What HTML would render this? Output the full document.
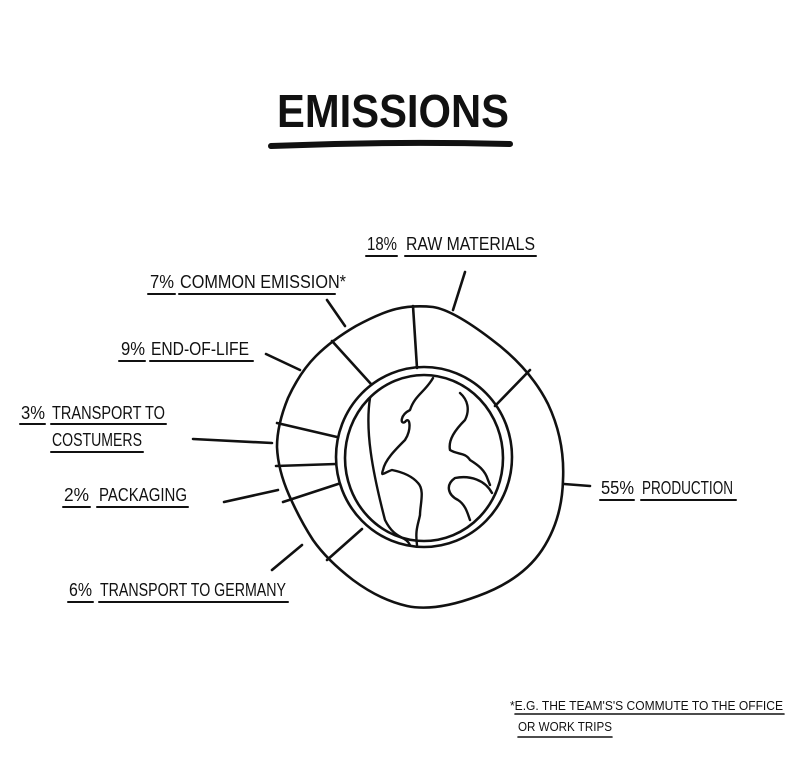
<!DOCTYPE html>
<html><head><meta charset="utf-8"><style>
html,body{margin:0;padding:0;background:#fff;width:800px;height:780px;overflow:hidden}
svg{display:block}
text{font-family:"Liberation Sans Narrow","Liberation Sans",sans-serif;fill:#111}
</style></head><body>
<svg width="800" height="780" viewBox="0 0 800 780" fill="none" stroke="#111" stroke-width="2.6" stroke-linecap="round" stroke-linejoin="round">
<text x="277" y="127" font-size="46" font-weight="bold" textLength="232" lengthAdjust="spacingAndGlyphs" stroke="none">EMISSIONS</text>
<path d="M271 146 Q390 141 510 144" stroke-width="6"/>

<!-- outer shape (smoothed) -->
<path d="M433 307 Q453 310 491 339 Q530 368 548 404 Q565 440 563 480 Q562 520 542 550 Q522 580 478 596 Q435 612 407 606 Q380 600 353 580 Q327 560 313 540 Q300 520 289 495 Q278 470 277 447 Q277 425 288 398 Q300 372 316 356 Q332 340 356 326 Q380 313 396 309 Q413 305 433 307 Z"/>
<!-- inner ring -->
<ellipse cx="424" cy="457" rx="88" ry="90"/>
<ellipse cx="424" cy="458" rx="79" ry="83"/>
<!-- dividers -->
<path d="M413 306 L417 368"/>
<path d="M530 370 L495 406"/>
<path d="M332 341 L371 384"/>
<path d="M277 423 L337 437"/>
<path d="M276 466 L336 464"/>
<path d="M283 502 L338 484"/>
<path d="M327 560 L362 529"/>
<!-- leaders -->
<path d="M453 310 L465 272"/>
<path d="M345 326 L327 300"/>
<path d="M300 370 L266 354"/>
<path d="M272 443 L193 439"/>
<path d="M278 490 L224 502"/>
<path d="M302 545 L272 570"/>
<path d="M564 484 L590 486"/>
<!-- continents -->
<path d="M370 398 C365 430 372 470 385 520 C395 540 405 535 410 545" stroke-width="2.4"/>
<path d="M433 378 C425 392 415 395 410 410 C400 415 400 425 405 422 C410 415 412 430 405 440 C395 450 385 460 383 470 C380 478 385 472 392 470 C402 472 412 476 418 483 C425 490 420 505 420 515 C418 525 415 530 417 545" stroke-width="2.4"/>
<path d="M460 393 C468 400 470 410 465 420 C455 430 448 440 450 450 C458 455 465 452 470 460 C478 465 485 470 488 480 L490 485 M492 493 C485 480 470 475 455 478 C445 485 448 495 458 500 C466 505 468 515 470 520" stroke-width="2.4"/>

<g stroke="none">
<text x="367" y="250" font-size="18" textLength="30" lengthAdjust="spacingAndGlyphs">18%</text>
<text x="406" y="250" font-size="18" textLength="129" lengthAdjust="spacingAndGlyphs">RAW MATERIALS</text>
<text x="150" y="288" font-size="18" textLength="24" lengthAdjust="spacingAndGlyphs">7%</text>
<text x="180" y="288" font-size="18" textLength="166" lengthAdjust="spacingAndGlyphs">COMMON EMISSION*</text>
<text x="121" y="355" font-size="18" textLength="24" lengthAdjust="spacingAndGlyphs">9%</text>
<text x="151" y="355" font-size="18" textLength="98" lengthAdjust="spacingAndGlyphs">END-OF-LIFE</text>
<text x="21" y="419" font-size="18" textLength="24" lengthAdjust="spacingAndGlyphs">3%</text>
<text x="52" y="419" font-size="18" textLength="113" lengthAdjust="spacingAndGlyphs">TRANSPORT TO</text>
<text x="52" y="446" font-size="18" textLength="90" lengthAdjust="spacingAndGlyphs">COSTUMERS</text>
<text x="64" y="501" font-size="18" textLength="25" lengthAdjust="spacingAndGlyphs">2%</text>
<text x="99" y="501" font-size="18" textLength="88" lengthAdjust="spacingAndGlyphs">PACKAGING</text>
<text x="69" y="596" font-size="18" textLength="23" lengthAdjust="spacingAndGlyphs">6%</text>
<text x="100" y="596" font-size="18" textLength="186" lengthAdjust="spacingAndGlyphs">TRANSPORT TO GERMANY</text>
<text x="601" y="494" font-size="18" textLength="33" lengthAdjust="spacingAndGlyphs">55%</text>
<text x="642" y="494" font-size="18" textLength="91" lengthAdjust="spacingAndGlyphs">PRODUCTION</text>
<text x="510" y="710" font-size="13" textLength="273" lengthAdjust="spacingAndGlyphs">*E.G. THE TEAM'S'S COMMUTE TO THE OFFICE</text>
<text x="518" y="731" font-size="13" textLength="94" lengthAdjust="spacingAndGlyphs">OR WORK TRIPS</text>
</g>
<g stroke-width="2">
<path d="M366 256 L397 256 M405 256 L536 256"/>
<path d="M148 294 L175 294 M179 294 L335 294"/>
<path d="M119 361 L145 361 M150 361 L253 361"/>
<path d="M20 424 L45 424 M51 424 L166 424"/>
<path d="M51 452 L143 452"/>
<path d="M63 507 L90 507 M97 507 L188 507"/>
<path d="M68 602 L93 602 M99 602 L288 602"/>
<path d="M600 500 L634 500 M641 500 L736 500"/>
<path d="M515 714 L784 714 M518 737 L612 737" stroke-width="1.6"/>
</g>
</svg>
</body></html>
